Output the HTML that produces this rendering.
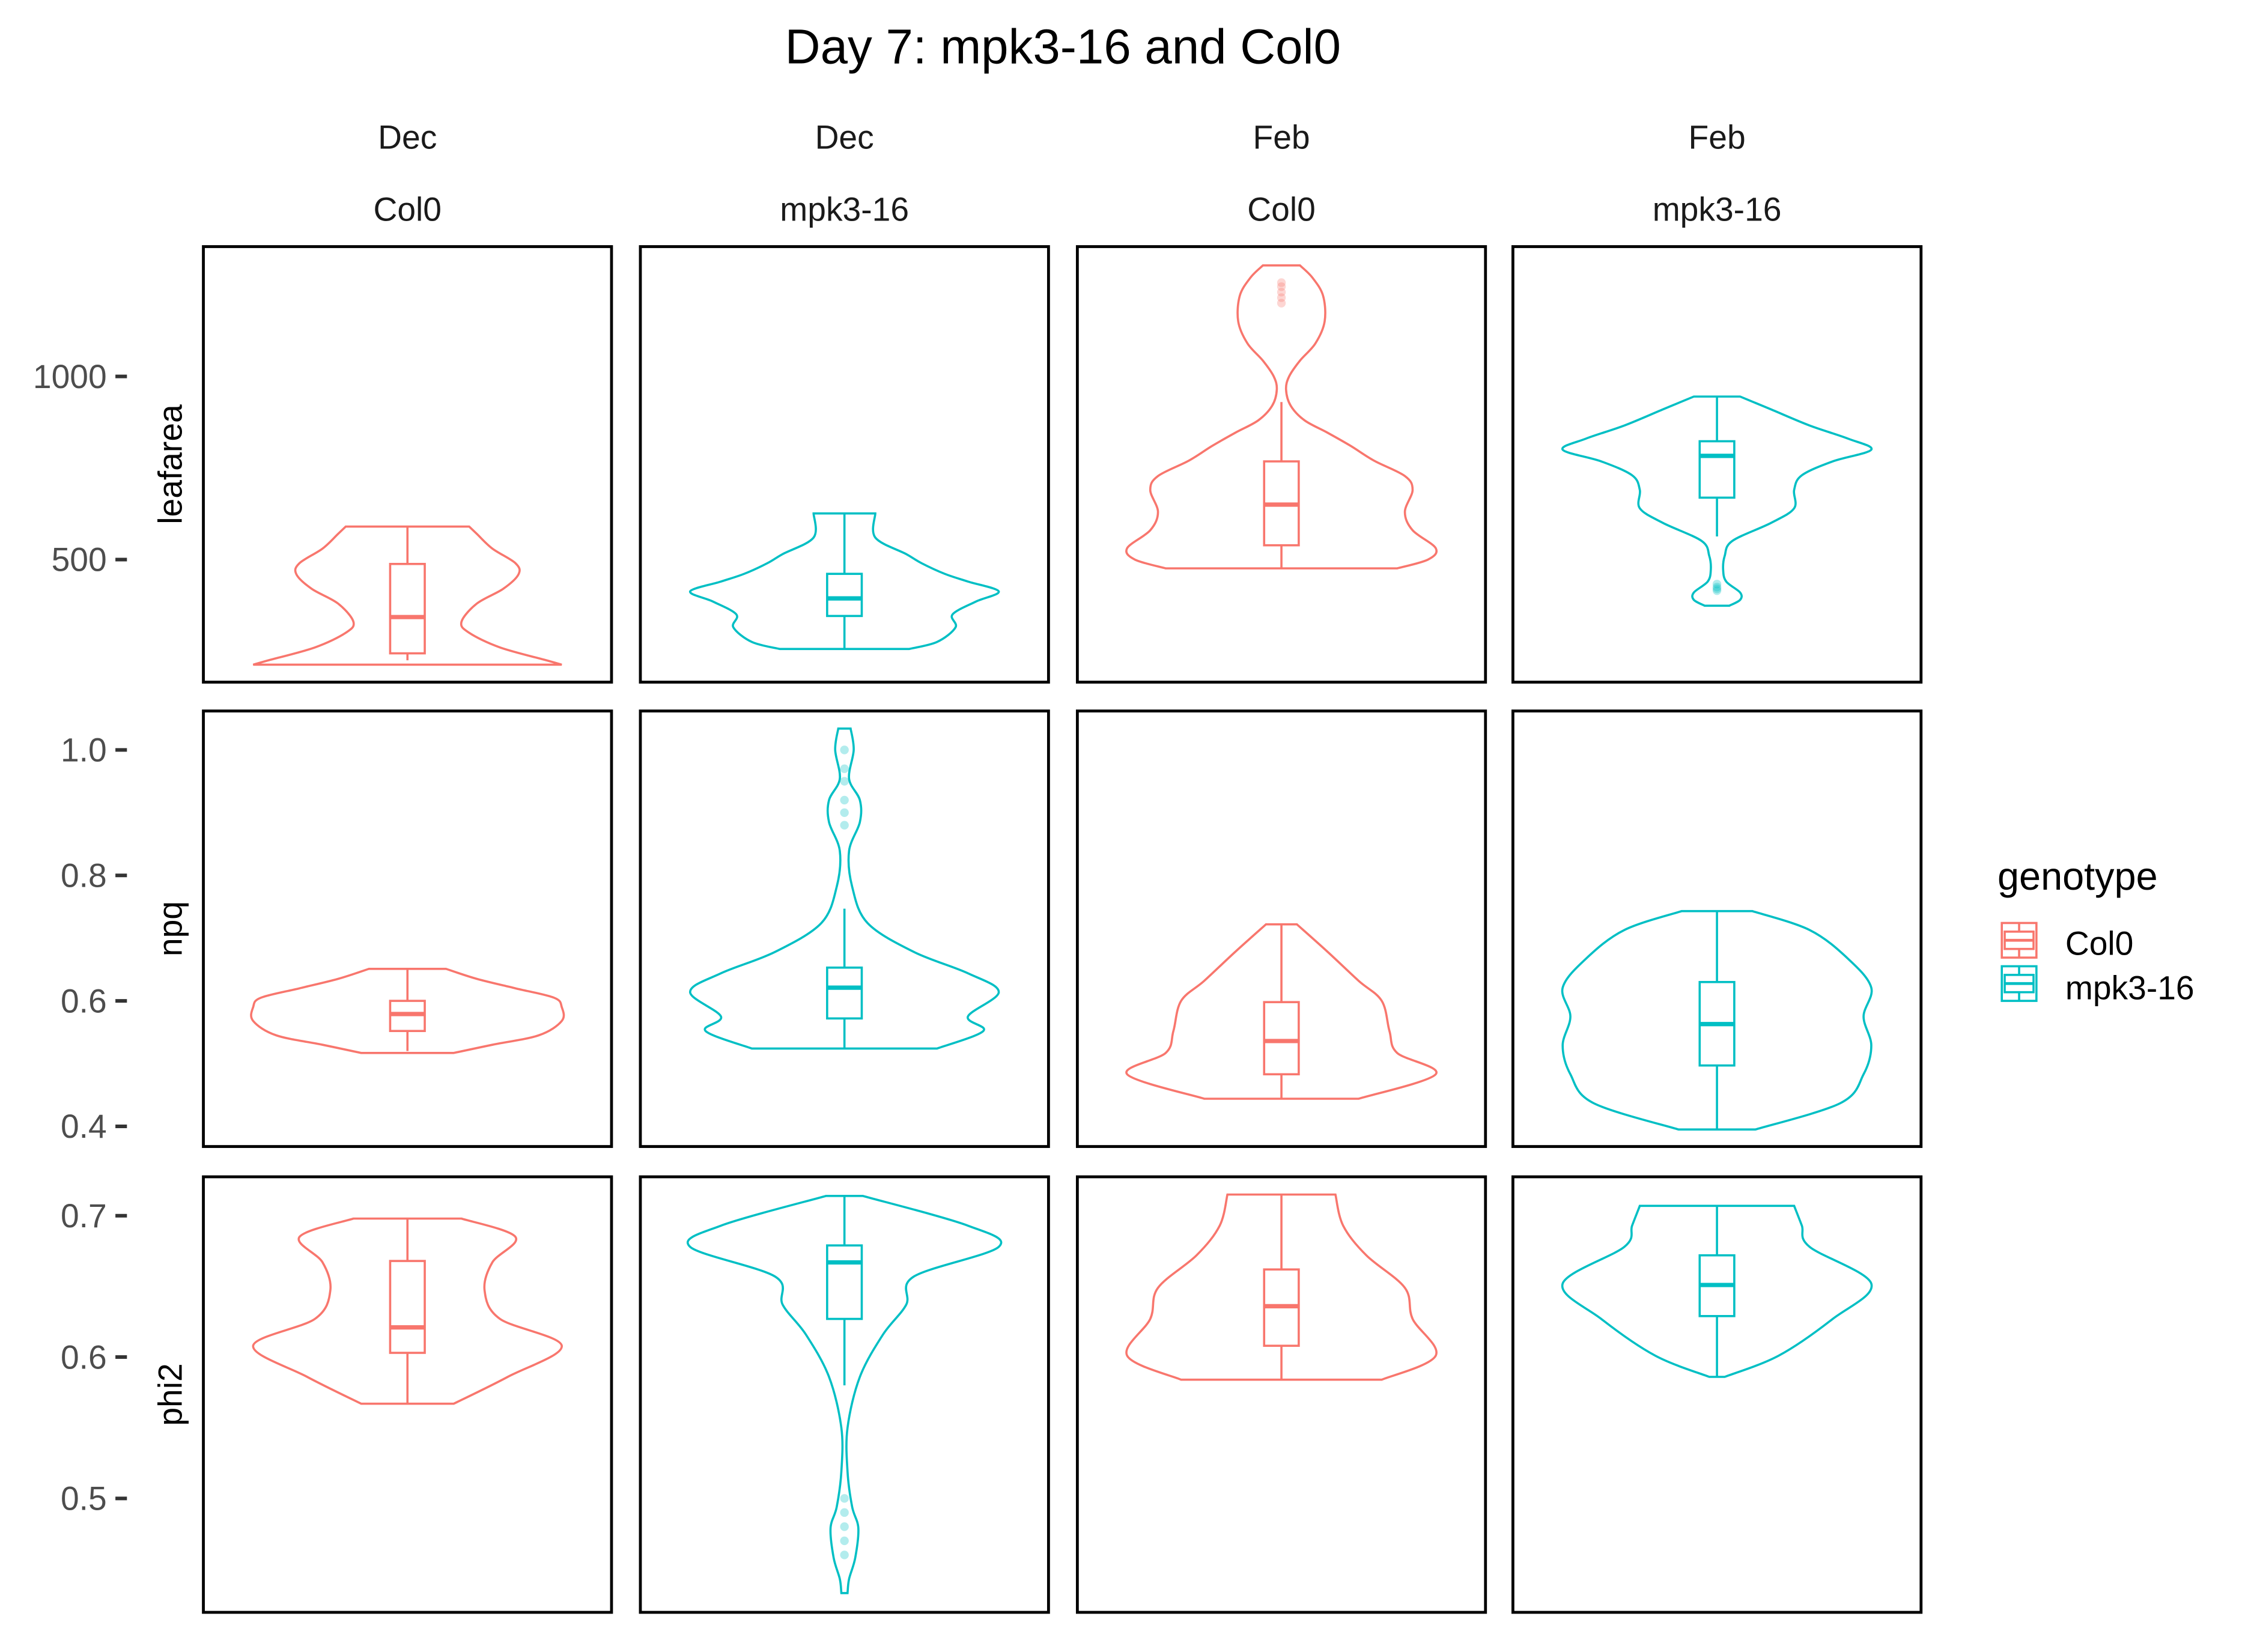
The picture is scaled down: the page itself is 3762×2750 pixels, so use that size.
<!DOCTYPE html>
<html><head><meta charset="utf-8">
<style>
html,body{margin:0;padding:0;background:#fff;}
svg{display:block;font-family:"Liberation Sans",sans-serif;}
</style></head>
<body>
<svg id="chart" width="3762" height="2750" viewBox="0 0 1567 1145.5" xmlns="http://www.w3.org/2000/svg">
<text x="737" y="44" text-anchor="middle" font-size="34" fill="#000">Day 7: mpk3-16 and Col0</text>
<g id="plots"></g>
<g>
<text x="1385" y="617" font-size="27" fill="#000">genotype</text>
<g>
<rect x="1388" y="640" width="24" height="24" fill="none" stroke="#F8766D" stroke-width="1.5"/>
<line x1="1400" y1="640" x2="1400" y2="664" stroke="#F8766D" stroke-width="1.5"/>
<rect x="1390" y="646" width="20" height="12" fill="#fff" stroke="#F8766D" stroke-width="1.5"/>
<line x1="1390" y1="652" x2="1410" y2="652" stroke="#F8766D" stroke-width="2"/>
<text x="1432" y="662" font-size="23" fill="#000">Col0</text></g>
<g>
<rect x="1388" y="670" width="24" height="24" fill="none" stroke="#00BFC4" stroke-width="1.5"/>
<line x1="1400" y1="670" x2="1400" y2="694" stroke="#00BFC4" stroke-width="1.5"/>
<rect x="1390" y="676" width="20" height="12" fill="#fff" stroke="#00BFC4" stroke-width="1.5"/>
<line x1="1390" y1="682" x2="1410" y2="682" stroke="#00BFC4" stroke-width="2"/>
<text x="1432" y="693" font-size="23" fill="#000">mpk3-16</text></g>
</g>
</svg>
<script>
// Facet categories
const months = ["Dec","Dec","Feb","Feb"];
const genotypes = ["Col0","mpk3-16","Col0","mpk3-16"];
const metrics = ["leafarea","npq","phi2"];
// Tick labels
const leafTicks = [500,1000];
const npqTicks = [0.4,0.6,0.8,1.0];
const phiTicks = [0.5,0.6,0.7];
// Violin density profiles (value, relative half-width)
const leafDecColV = [213,225,260,300,330,380,420,460,490,530,570,590];
const leafDecColD = [1.0,0.9,0.6,0.4,0.35,0.45,0.62,0.72,0.7,0.55,0.45,0.4];
const leafDecMpkV = [256,275,315,350,385,413,440,461,490,515,560,626];
const leafDecMpkD = [0.42,0.6,0.72,0.7,0.85,1.0,0.8,0.65,0.5,0.4,0.2,0.2];
const leafFebColV = [476,500,531,580,630,690,728,770,810,846,880,920,964,1000,1043,1090,1150,1220,1270,1303];
const leafFebColD = [0.75,0.95,1.0,0.85,0.8,0.85,0.8,0.6,0.45,0.3,0.15,0.06,0.03,0.05,0.12,0.22,0.28,0.27,0.2,0.12];
const leafFebMpkV = [374,390,410,440,472,510,551,600,640,690,730,768,800,830,866,910,945];
const leafFebMpkD = [0.08,0.15,0.15,0.06,0.04,0.05,0.1,0.35,0.5,0.5,0.55,0.75,1.0,0.85,0.6,0.35,0.15];
const npqDecColV = [0.517,0.53,0.545,0.568,0.59,0.605,0.62,0.635,0.651];
const npqDecColD = [0.3,0.55,0.85,1.0,1.0,0.95,0.7,0.45,0.25];
const npqDecMpkV = [0.524,0.552,0.575,0.614,0.644,0.678,0.724,0.782,0.839,0.885,0.92,0.954,1.0,1.034];
const npqDecMpkD = [0.6,0.9,0.8,1.0,0.8,0.45,0.15,0.05,0.03,0.1,0.1,0.03,0.06,0.04];
const npqFebColV = [0.444,0.483,0.517,0.552,0.6,0.632,0.678,0.722];
const npqFebColD = [0.5,1.0,0.75,0.7,0.65,0.5,0.3,0.1];
const npqFebMpkV = [0.395,0.437,0.483,0.529,0.575,0.621,0.667,0.713,0.743];
const npqFebMpkD = [0.25,0.8,0.95,1.0,0.95,1.0,0.85,0.6,0.23];
const phiDecColV = [0.567,0.586,0.608,0.627,0.647,0.667,0.685,0.698];
const phiDecColD = [0.3,0.65,1.0,0.6,0.5,0.55,0.7,0.35];
const phiDecMpkV = [0.433,0.443,0.458,0.479,0.494,0.519,0.55,0.586,0.616,0.637,0.657,0.678,0.693,0.714];
const phiDecMpkD = [0.02,0.03,0.07,0.09,0.05,0.02,0.02,0.1,0.25,0.4,0.45,1.0,0.8,0.12];
const phiFebColV = [0.584,0.601,0.627,0.649,0.672,0.693,0.715];
const phiFebColD = [0.65,1.0,0.85,0.8,0.55,0.4,0.35];
const phiFebMpkV = [0.586,0.601,0.627,0.652,0.678,0.693,0.707];
const phiFebMpkD = [0.05,0.4,0.75,1.0,0.6,0.55,0.5];
// Box stats [lowWhisker, q1, median, q3, highWhisker]
const leafBoxes = [[225,244,343,488,590],[256,346,394,461,626],[476,539,650,768,930],[563,669,783,823,945]];
const npqBoxes = [[0.52,0.552,0.579,0.6,0.65],[0.524,0.572,0.621,0.653,0.747],[0.444,0.483,0.536,0.598,0.722],[0.395,0.497,0.563,0.63,0.743]];
const phiBoxes = [[0.567,0.603,0.621,0.668,0.698],[0.58,0.627,0.667,0.679,0.714],[0.584,0.608,0.636,0.662,0.715],[0.586,0.629,0.651,0.672,0.707]];
// Outliers
const leafOut = [[],[],[1200,1215,1230,1245,1256],[415,420,425,433]];
const npqOut = [[],[0.88,0.9,0.92,0.95,0.97,1.0],[],[]];
const phiOut = [[],[0.46,0.47,0.48,0.49,0.5],[],[]];

const colors = ["#F8766D","#00BFC4","#F8766D","#00BFC4"];
const panelX = [141,444,747,1049], panelW = 283;
const rowY = [171,493,816], panelH = 302;
const maxHW = 107, boxHW = 12;
const yScales = [
  v => 388 - (v-500)*0.254,
  v => 694 - (v-0.6)*435,
  v => 941 - (v-0.6)*980
];
const tickSets = [leafTicks, npqTicks, phiTicks];
const tickFmt = [v=>String(v), v=>v.toFixed(1), v=>v.toFixed(1)];
const vals = [[leafDecColV,leafDecMpkV,leafFebColV,leafFebMpkV],[npqDecColV,npqDecMpkV,npqFebColV,npqFebMpkV],[phiDecColV,phiDecMpkV,phiFebColV,phiFebMpkV]];
const dens = [[leafDecColD,leafDecMpkD,leafFebColD,leafFebMpkD],[npqDecColD,npqDecMpkD,npqFebColD,npqFebMpkD],[phiDecColD,phiDecMpkD,phiFebColD,phiFebMpkD]];
const boxes = [leafBoxes,npqBoxes,phiBoxes];
const outs = [leafOut,npqOut,phiOut];

const NS = "http://www.w3.org/2000/svg";
const root = document.getElementById("plots");
function mk(tag, attrs, parent){
  const e = document.createElementNS(NS, tag);
  for (const k in attrs) e.setAttribute(k, attrs[k]);
  (parent||root).appendChild(e);
  return e;
}
function smoothPath(pts){
  let d = "M" + pts[0][0].toFixed(2) + "," + pts[0][1].toFixed(2);
  for (let i=0;i<pts.length-1;i++){
    const p0 = pts[Math.max(0,i-1)], p1 = pts[i], p2 = pts[i+1], p3 = pts[Math.min(pts.length-1,i+2)];
    const c1 = [p1[0]+(p2[0]-p0[0])/6, p1[1]+(p2[1]-p0[1])/6];
    const c2 = [p2[0]-(p3[0]-p1[0])/6, p2[1]-(p3[1]-p1[1])/6];
    d += " C"+c1[0].toFixed(2)+","+c1[1].toFixed(2)+" "+c2[0].toFixed(2)+","+c2[1].toFixed(2)+" "+p2[0].toFixed(2)+","+p2[1].toFixed(2);
  }
  return d;
}

// strip labels
for (let c=0;c<4;c++){
  const cx = panelX[c]+panelW/2;
  const t1 = mk("text",{x:cx,y:103,"text-anchor":"middle","font-size":23,fill:"#1a1a1a"});
  t1.textContent = months[c];
  
  
  const t2 = mk("text",{x:cx,y:153,"text-anchor":"middle","font-size":23,fill:"#1a1a1a"});
  t2.textContent = genotypes[c];
  
  
}

for (let r=0;r<3;r++){
  const ys = yScales[r];
  // y axis title
  const cy = rowY[r]+panelH/2;
  const yt = mk("text",{x:0,y:0,transform:"translate(126,"+cy+") rotate(-90)","text-anchor":"middle","font-size":23,fill:"#000"});
  yt.textContent = metrics[r];
  
  
  // ticks
  tickSets[r].forEach(v=>{
    const y = ys(v);
    const tl = mk("line",{x1:80,x2:88,y1:y,y2:y,stroke:"#333","stroke-width":2.5});
    
    
    const tx = mk("text",{x:74,y:y+8,"text-anchor":"end","font-size":23,fill:"#4d4d4d"});
    tx.textContent = tickFmt[r](v);
    
    
  });
  for (let c=0;c<4;c++){
    const col = colors[c];
    const cx = panelX[c]+panelW/2;
    const g = mk("g",{});
    
    
    const V = vals[r][c], D = dens[r][c];
    const right = V.map((v,i)=>[cx+D[i]*maxHW, ys(v)]);
    const left = V.map((v,i)=>[cx-D[i]*maxHW, ys(v)]).reverse();
    const dR = smoothPath(right);
    const dL = smoothPath(left).replace(/^M/," L");
    const vp = mk("path",{d:dR+dL+" Z",fill:"none",stroke:col,"stroke-width":1.5},g);
    
    
    const b = boxes[r][c];
    const w1 = mk("line",{x1:cx,x2:cx,y1:ys(b[0]),y2:ys(b[1]),stroke:col,"stroke-width":1.5},g);
    
    
    const w2 = mk("line",{x1:cx,x2:cx,y1:ys(b[3]),y2:ys(b[4]),stroke:col,"stroke-width":1.5},g);
    
    
    const bx = mk("rect",{x:cx-boxHW,y:ys(b[3]),width:boxHW*2,height:ys(b[1])-ys(b[3]),fill:"#fff",stroke:col,"stroke-width":1.5},g);
    
    
    const md = mk("line",{x1:cx-boxHW,x2:cx+boxHW,y1:ys(b[2]),y2:ys(b[2]),stroke:col,"stroke-width":3},g);
    
    
    outs[r][c].forEach(v=>{
      const p = mk("circle",{cx:cx,cy:ys(v),r:3,fill:col,"fill-opacity":0.3},g);
      
      
    });
    const fr = mk("rect",{x:panelX[c],y:rowY[r],width:panelW,height:panelH,fill:"none",stroke:"#000","stroke-width":2},g);
    
    
  }
}
</script>
</body></html>
